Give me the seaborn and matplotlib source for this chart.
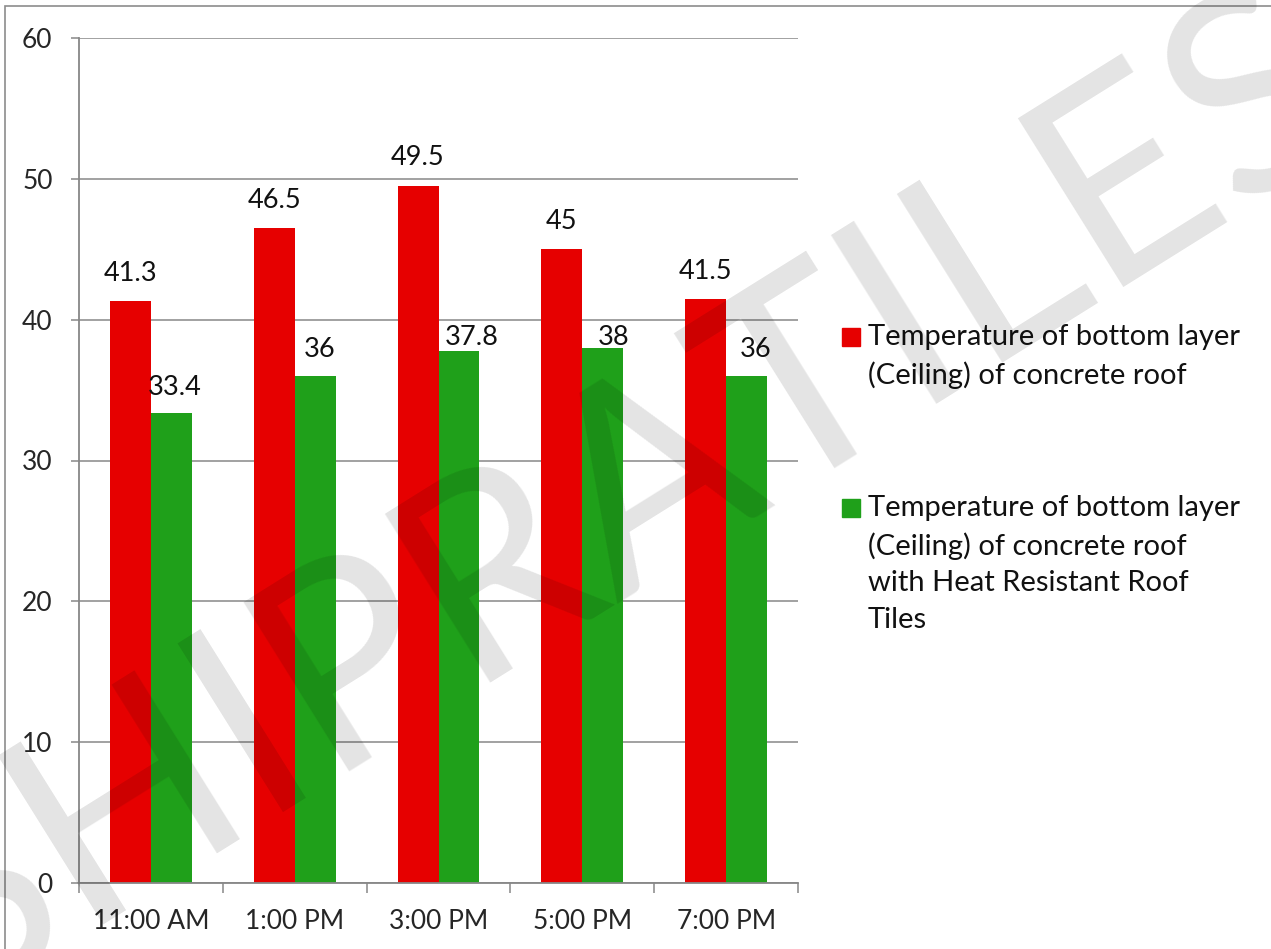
import numpy as np
import pandas as pd
import matplotlib
matplotlib.use('Agg')
import matplotlib.pyplot as plt
from matplotlib.patches import Rectangle
import seaborn as sns

times = ['11:00 AM', '1:00 PM', '3:00 PM', '5:00 PM', '7:00 PM']
concrete = [41.3, 46.5, 49.5, 45, 41.5]
with_tiles = [33.4, 36, 37.8, 38, 36]
series = ['Temperature of bottom layer\n(Ceiling) of concrete roof',
          'Temperature of bottom layer\n(Ceiling) of concrete roof\nwith Heat Resistant Roof\nTiles']
colors = ['#E60000', '#1FA01A']

df = pd.DataFrame({
    'time': times * 2,
    'temp': concrete + with_tiles,
    'series': [series[0]] * len(times) + [series[1]] * len(times),
})

sns.set_style('white')
plt.rcParams['font.family'] = ['Lato', 'DejaVu Sans']

W, H = 1271, 949
fig = plt.figure(figsize=(W / 100, H / 100), dpi=100)
ax = fig.add_axes([79 / W, 1 - 883 / H, (798 - 79) / W, (883 - 38) / H])

sns.barplot(data=df, x='time', y='temp', hue='series', order=times, hue_order=series,
            palette=colors, width=0.57, gap=0, saturation=1, legend=False, ax=ax,
            errorbar=None, linewidth=0)

grid_c = '#878787'
ax.set_ylim(0, 60)
ax.set_xlim(-0.5, len(times) - 0.5)
ax.set_yticks(range(0, 61, 10))
ax.yaxis.grid(True, color=grid_c, lw=1.1)
ax.set_axisbelow(True)
for s in ['top', 'right']:
    ax.spines[s].set_visible(False)
for s in ['left', 'bottom']:
    ax.spines[s].set_color(grid_c)
    ax.spines[s].set_linewidth(1.3)
ax.set_xlabel('')
ax.set_ylabel('')
ax.tick_params(axis='y', length=6, width=1.1, color=grid_c, pad=13, labelsize=19, direction='out', left=True)
ax.tick_params(axis='x', which='major', length=0, pad=19, labelsize=19)
ax.set_xticks(np.arange(-0.5, len(times)), minor=True)
ax.tick_params(axis='x', which='minor', length=7, width=1.1, color=grid_c, direction='out', bottom=True)

# data labels (Excel nudged a few of them by hand)
nudges = [[(0, 20), (0, 20), (0, 21), (0, 20), (0, 20)],
          [(3, 18), (4, 19), (13, 6), (11, 3), (9, 19)]]
for cont, nd in zip(ax.containers, nudges):
    for bar, (dx, dy) in zip(cont, nd):
        ax.annotate(f'{bar.get_height():g}', (bar.get_x() + bar.get_width() / 2, bar.get_height()),
                    xytext=(dx * 0.72, dy * 0.72), textcoords='offset points',
                    ha='center', va='baseline', fontsize=19.5, color='#111111')

# legend drawn by hand so the square sits on the first line
leg_y = [328, 499]
for lab, c, y in zip(series, colors, leg_y):
    fig.patches.append(Rectangle((842 / W, 1 - (y + 18) / H), 18 / W, 18 / H,
                                 transform=fig.transFigure, color=c))
    fig.text(868 / W, 1 - (y - 4) / H, lab, ha='left', va='top', fontsize=21,
             linespacing=1.5, color='#111111')

# outer frame
fig.patches.append(Rectangle((5 / W, -0.1), 1.2, 1 - 6 / H + 0.1, transform=fig.transFigure,
                             fill=False, edgecolor='#8c8c8c', lw=1.2))

# watermark
fig.text(618 / W, 1 - 505 / H, 'SHIPRATILES', rotation=32, rotation_mode='anchor',
         ha='center', va='center', fontsize=200, fontweight='normal', color='black',
         alpha=0.11, zorder=10)

fig.savefig('out.png', dpi=100)
